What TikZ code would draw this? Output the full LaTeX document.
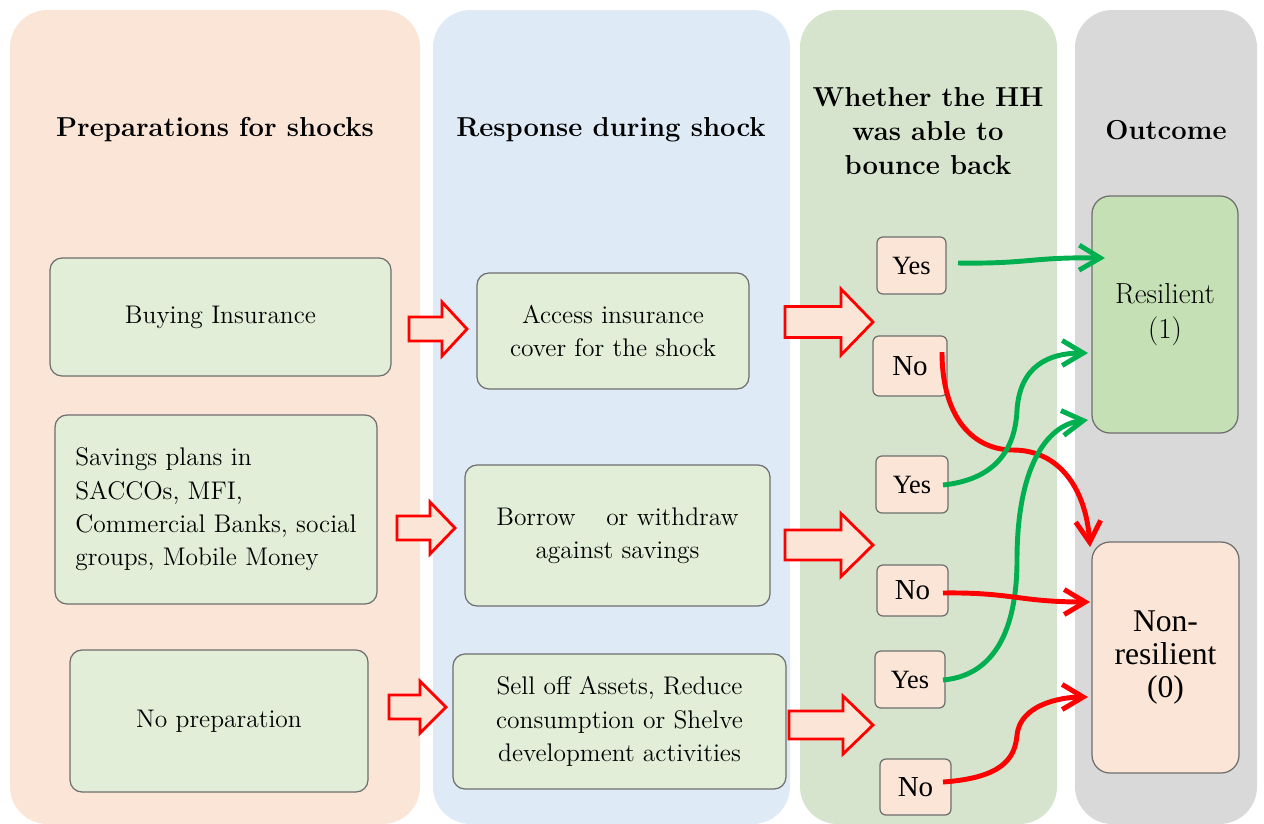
\documentclass[tikz,border=0pt]{standalone}
\usepackage{fontspec}
\newfontfamily\tms{Liberation Serif}
\usetikzlibrary{arrows.meta}
\definecolor{peach}{HTML}{FBE5D6}
\definecolor{lblue}{HTML}{DEEBF7}
\definecolor{lgreen}{HTML}{D6E4CD}
\definecolor{lgray}{HTML}{D9D9D9}
\definecolor{boxgreen}{HTML}{E2EED8}
\definecolor{resgreen}{HTML}{C5E0B4}
\definecolor{edge}{HTML}{6E6E6E}
\definecolor{grn}{HTML}{00B050}
\definecolor{rd}{HTML}{FF0000}
\newcommand\bx[7]{\node[#6, minimum width={(#4-#2)*0.02cm}, minimum height={(#5-#3)*0.02cm}] (#1) at ({(#2+#4)/2},{(#3+#5)/2}) {#7};}
\newcommand\barrow[6]{\filldraw[blockarrow] (#1,#3-#5) -- (#2,#3-#5) -- (#2,#3-#6) -- (#4,#3) -- (#2,#3+#6) -- (#2,#3+#5) -- (#1,#3+#5) -- cycle;}
\begin{document}
\begin{tikzpicture}[x=0.02cm,y=-0.02cm,
  colbg/.style={rounded corners=0.75cm},
  head/.style={font=\fontsize{15.6}{19.5}\selectfont\bfseries, align=center},
  gbox/.style={draw=edge, line width=0.7pt, fill=boxgreen, rounded corners=0.24cm, align=center, font=\fontsize{14.5}{19}\selectfont, inner sep=0pt},
  ynbox/.style={draw=edge, line width=0.7pt, fill=peach, rounded corners=0.12cm, inner sep=0pt},
  obox/.style={draw=edge, line width=0.7pt, rounded corners=0.36cm, align=center, inner sep=0pt},
  blockarrow/.style={draw=rd, line width=1.6pt, fill=peach, line join=miter},
  garr/.style={draw=grn, line width=2.8pt, -{Straight Barb[length=0.42cm,width=0.5cm]}},
  rarr/.style={draw=rd, line width=2.8pt, -{Straight Barb[length=0.42cm,width=0.5cm]}},
]
\useasboundingbox (0,0) rectangle (1264,823);
% columns
\path[colbg, fill=peach] (10,10) rectangle (420,824);
\path[colbg, fill=lblue] (433,10) rectangle (790,824);
\path[colbg, fill=lgreen] (800,10) rectangle (1057,824);
\path[colbg, fill=lgray] (1075,10) rectangle (1257,824);
% headings
\node[head] (h1) at (215,130) {Preparations for shocks};
\node[head] (h2) at (611,130) {Response during shock};
\node[head] (h3) at (928,131) {Whether the HH\\was able to\\bounce back};
\node[head] (h4) at (1166,130) {Outcome};
% column 1
\bx{p1}{50}{258}{391}{376}{gbox}{Buying Insurance}
\bx{p2}{55}{415}{377}{604}{gbox, align=left}{Savings plans in\\SACCOs, MFI,\\Commercial Banks, social\\groups, Mobile Money}
\bx{p3}{70}{650}{368}{792}{gbox}{No preparation}
% column 2
\bx{r1}{477}{273}{749}{389}{gbox}{Access insurance\\cover for the shock}
\bx{r2}{465}{465}{770}{606}{gbox}{Borrow\hspace{1.2em}or withdraw\\against savings}
\bx{r3}{453}{654}{786}{789}{gbox}{Sell off Assets, Reduce\\consumption or Shelve\\development activities}
% block arrows
\barrow{409}{442}{329}{467}{12}{27}
\barrow{397}{430}{528}{455}{12}{26}
\barrow{389}{420}{707}{446}{12}{26}
\barrow{785}{841}{322}{873}{15.5}{33}
\barrow{785}{841}{545}{873}{15}{31.5}
\barrow{789}{843}{725}{873}{14}{29}
% yes / no
\bx{y1}{877}{237}{946}{294}{ynbox}{\tms\fontsize{15}{18}\selectfont Yes}
\bx{n1}{873}{336}{947}{396}{ynbox}{\tms\fontsize{16.5}{18}\selectfont No}
\bx{y2}{876}{456}{948}{513}{ynbox}{\tms\fontsize{15}{18}\selectfont Yes}
\bx{n2}{877}{565}{948}{616}{ynbox}{\tms\fontsize{16.5}{18}\selectfont No}
\bx{y3}{875}{651}{945}{708}{ynbox}{\tms\fontsize{15}{18}\selectfont Yes}
\bx{n3}{880}{759}{951}{815}{ynbox}{\tms\fontsize{16.5}{18}\selectfont No}
% outcomes
\bx{res}{1092}{196}{1238}{433}{obox, fill=resgreen, font=\fontsize{16.5}{20}\selectfont}{Resilient\\(1)}
\bx{non}{1092}{542}{1239}{773}{obox, fill=peach, font=\tms\fontsize{18}{19}\selectfont}{Non-\\resilient\\(0)}
% connector ends
\coordinate (sy1) at (958,263);
\coordinate (sn1) at (942,352);
\coordinate (sy2) at (943,485);
\coordinate (sn2) at (943,593);
\coordinate (sy3) at (943,680);
\coordinate (sn3) at (943,782);
\coordinate (ty1) at (1105,258);
\coordinate (ty2) at (1088,353);
\coordinate (ty3) at (1088,420);
\coordinate (tn1) at (1090,547);
\coordinate (tn2) at (1090,602);
\coordinate (tn3) at (1088,697);
% connectors
\draw[garr] (sy1) .. controls (1030,264) and (1030,257) .. (ty1);
\draw[rarr] (sn1) .. controls (942,420) and (975,450) .. (1013,450) .. controls (1060,450) and (1086,490) .. (tn1);
\draw[garr] (sy2) .. controls (990,480) and (1015,455) .. (1017,410) .. controls (1020,365) and (1050,353) .. (ty2);
\draw[garr] (sy3) .. controls (1000,675) and (1017,620) .. (1017,560) .. controls (1017,470) and (1045,425) .. (ty3);
\draw[rarr] (sn2) .. controls (1010,592) and (1020,602) .. (tn2);
\draw[rarr] (sn3) .. controls (1000,778) and (1015,760) .. (1017,735) .. controls (1020,705) and (1060,697) .. (tn3);
\end{tikzpicture}
\end{document}
